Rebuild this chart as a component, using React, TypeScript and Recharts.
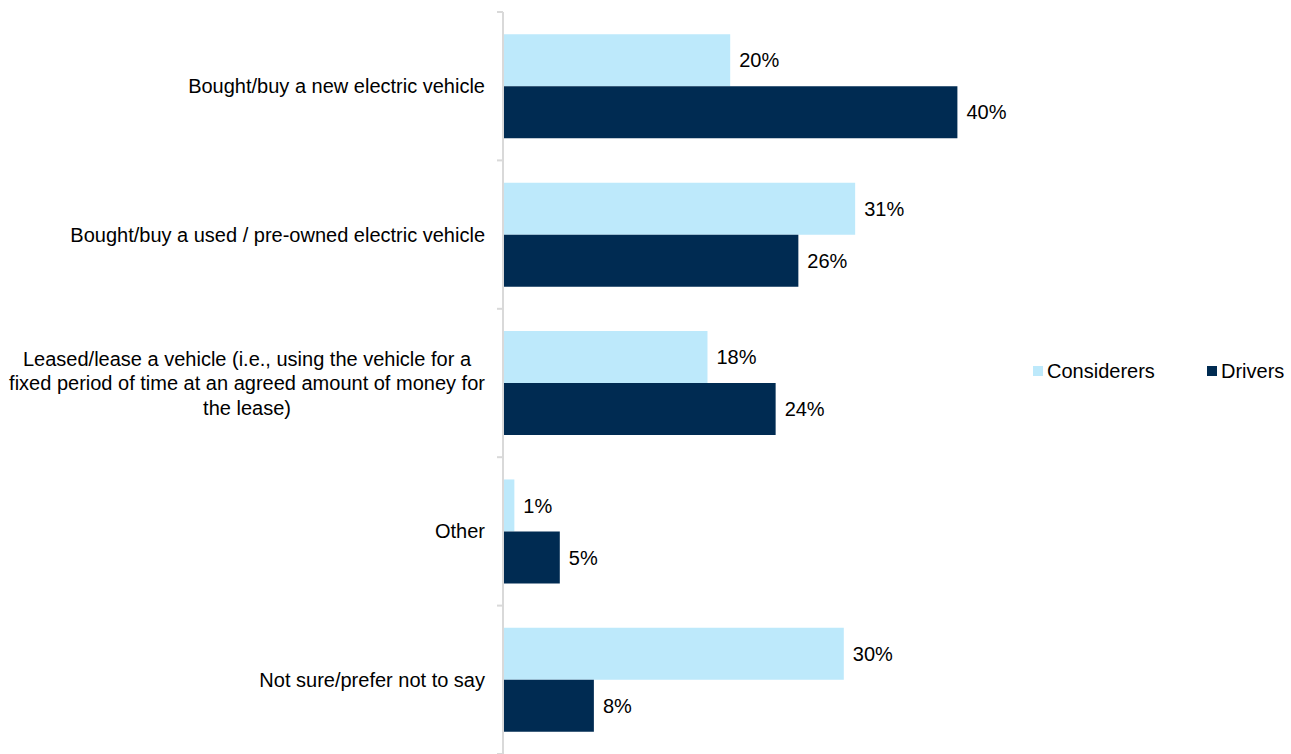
import { BarChart, Bar, XAxis, YAxis, LabelList, Legend } from 'recharts';

const categories = [
  'Bought/buy a new electric vehicle',
  'Bought/buy a used / pre-owned electric vehicle',
  'Leased/lease a vehicle (i.e., using the vehicle for a|fixed period of time at an agreed amount of money for|the lease)',
  'Other',
  'Not sure/prefer not to say',
];
const considerers = [20, 31, 18, 1, 30];
const drivers = [40, 26, 24, 5, 8];

const data = categories.map((name, i) => ({
  name,
  considerers: considerers[i],
  drivers: drivers[i],
}));

const LIGHT = '#bde9fb';
const DARK = '#002b52';
const FONT = '"Liberation Sans", Arial, sans-serif';

const WIDTH = 1291;
const HEIGHT = 754;
const TOP = 12;
const BAND = (HEIGHT - TOP) / categories.length;
const LEGEND_W = 260;

function CategoryTick(props: any) {
  const { x, y, payload, index } = props;
  const lines: string[] = String(payload.value).split('|');
  const lineH = 24.5;
  const startY = y - ((lines.length - 1) * lineH) / 2;
  const multi = lines.length > 1;
  const axisX = 503;
  return (
    <g>
      <line x1={axisX - 6} x2={axisX} y1={y - BAND / 2} y2={y - BAND / 2} stroke="#d9d9d9" strokeWidth={2} />
      {index === categories.length - 1 && (
        <line x1={axisX - 6} x2={axisX} y1={y + BAND / 2} y2={y + BAND / 2} stroke="#d9d9d9" strokeWidth={2} />
      )}
      {lines.map((line, i) => (
        <text
          key={i}
          x={multi ? 247 : x - 10}
          y={startY + i * lineH}
          dy="0.35em"
          textAnchor={multi ? 'middle' : 'end'}
          fontSize={20}
          fontFamily={FONT}
          fill="#000"
        >
          {line}
        </text>
      ))}
    </g>
  );
}

function LegendContent() {
  const items = [
    { label: 'Considerers', color: LIGHT, x: 0 },
    { label: 'Drivers', color: DARK, x: 174 },
  ];
  return (
    <svg width={LEGEND_W} height={24} style={{ overflow: 'visible' }}>
      {items.map((it) => (
        <g key={it.label}>
          <rect x={it.x} y={7} width={10} height={10} fill={it.color} />
          <text x={it.x + 14} y={12} dy="0.35em" fontSize={20} fontFamily={FONT} fill="#000">
            {it.label}
          </text>
        </g>
      ))}
    </svg>
  );
}

const pct = (v: any) => `${v}%`;

export default function App() {
  return (
    <div style={{ position: 'absolute', left: 0, top: 0, width: WIDTH, height: HEIGHT, background: '#fff' }}>
      <BarChart
        width={WIDTH}
        height={HEIGHT}
        data={data}
        layout="vertical"
        margin={{ top: TOP, right: 220 - LEGEND_W, bottom: 0, left: 0 }}
        barCategoryGap="15%"
        barGap={0}
      >
        <XAxis type="number" domain={[0, 50]} hide />
        <YAxis
          type="category"
          dataKey="name"
          width={503}
          tick={<CategoryTick />}
          tickLine={false}
          axisLine={{ stroke: '#d9d9d9', strokeWidth: 2 }}
          interval={0}
        />
        <Legend
          content={<LegendContent />}
          layout="horizontal"
          verticalAlign="middle"
          align="right"
          wrapperStyle={{ position: 'absolute', left: 1033, top: 359, width: LEGEND_W }}
        />
        <Bar dataKey="considerers" fill={LIGHT} isAnimationActive={false}>
          <LabelList dataKey="considerers" position="right" offset={9} formatter={pct} fill="#000" fontSize={20} fontFamily={FONT} />
        </Bar>
        <Bar dataKey="drivers" fill={DARK} isAnimationActive={false}>
          <LabelList dataKey="drivers" position="right" offset={9} formatter={pct} fill="#000" fontSize={20} fontFamily={FONT} />
        </Bar>
      </BarChart>
    </div>
  );
}
